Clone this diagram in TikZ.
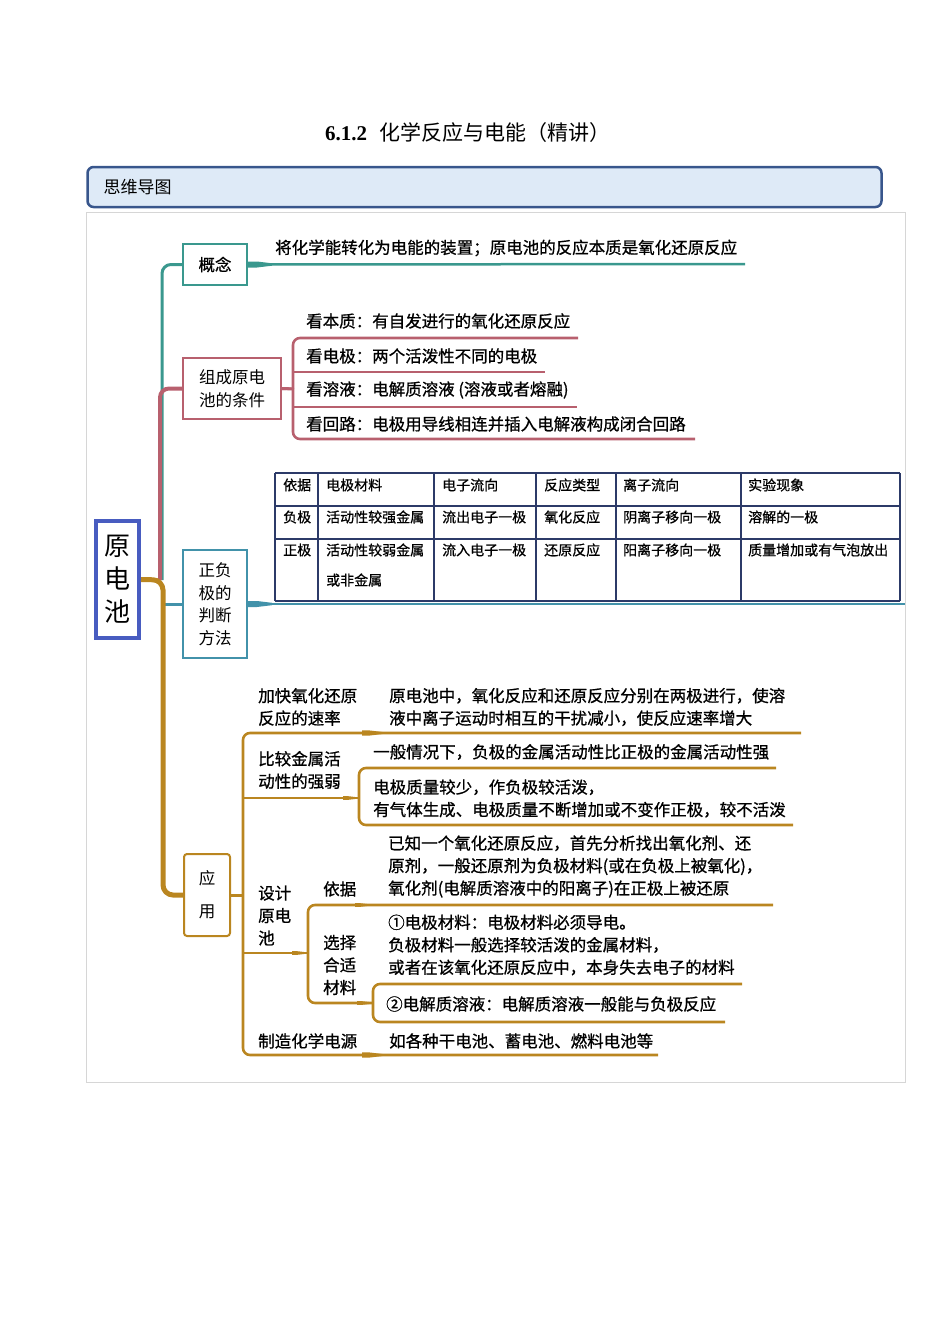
\documentclass[tikz,border=0pt]{standalone}
\usepackage{fontspec}
\setmainfont{Noto Sans CJK SC}
\newfontfamily\leaffont{Noto Sans CJK SC}[FakeBold=0.8]
\newfontfamily\numfont{Liberation Serif}
\usetikzlibrary{positioning}

\definecolor{conceptteal}{RGB}{58,152,142}
\definecolor{condred}{RGB}{184,96,110}
\definecolor{judgeblue}{RGB}{66,146,170}
\definecolor{usegold}{RGB}{186,134,32}
\definecolor{rootblue}{RGB}{72,92,192}
\definecolor{tablenavy}{RGB}{44,58,104}
\definecolor{hdrfill}{RGB}{222,234,247}
\definecolor{hdrline}{RGB}{56,86,140}
\definecolor{framegray}{RGB}{214,214,214}

\tikzset{
  topic/.style={rectangle, draw, line width=2pt, fill=white, align=center,
    inner sep=0pt, font=\fontsize{16.5}{22.5}\selectfont},
  leaf/.style={anchor=west, align=left, inner sep=0pt,
    font=\leaffont\fontsize{16.5}{22.5}\selectfont},
  cell/.style={anchor=west, inner sep=0pt, font=\leaffont\fontsize{14}{17}\selectfont},
  limb/.style={line width=2.6pt, rounded corners=7pt},
  pics/taper/.style={code={\fill (0,-3) -- (9,-3) -- (24,-1.2) -- (24,1.2) -- (9,3) -- (0,3) -- cycle;}}
}

\begin{document}
\begin{tikzpicture}[x=1pt, y=-1pt]
\useasboundingbox (0,0) rectangle (950,1344);

% Head
\node (title) at (468,133) {\fontsize{21}{24}\selectfont{\numfont\bfseries 6.1.2}\hspace{0.6em}化学反应与电能（精讲）};
\draw[framegray, line width=1pt] (86,212) rectangle (905,1082);
\node (header) [draw=hdrline, fill=hdrfill, line width=2.5pt, rounded corners=6pt,
  text width=762pt, inner xsep=16pt, minimum height=40pt, align=left,
  font=\fontsize{17}{20}\selectfont] at (484.5,187) {思维导图};

% Nodes
\node (root) [topic, draw=rootblue, line width=4pt, minimum width=43pt, minimum height=117pt,
  font=\fontsize{26}{33}\selectfont] at (117.5,579.5) {原\\电\\池};
\node (concept) [topic, draw=conceptteal, minimum width=64pt, minimum height=41pt,
  font=\leaffont\fontsize{16.5}{22.5}\selectfont] at (215,264.5) {概念};
\node (cond) [topic, draw=condred, minimum width=98pt, minimum height=61pt] at (232,388.5) {组成原电\\池的条件};
\node (judge) [topic, draw=judgeblue, minimum width=64pt, minimum height=108pt] at (215,604) {正负\\极的\\判断\\方法};
\node (apply) [topic, draw=usegold, rounded corners=3pt, minimum width=46pt, minimum height=82pt,
  font=\fontsize{16.5}{33}\selectfont] at (207,895) {应\\用};

\node (conceptdef) [leaf] at (275,248) {将化学能转化为电能的装置；原电池的反应本质是氧化还原反应};
\node (c1) [leaf] at (306,321) {看本质：有自发进行的氧化还原反应};
\node (c2) [leaf] at (306,356) {看电极：两个活泼性不同的电极};
\node (c3) [leaf] at (306,390) {看溶液：电解质溶液 (溶液或者熔融)};
\node (c4) [leaf] at (306,424) {看回路：电极用导线相连并插入电解液构成闭合回路};

\node (speed) [leaf] at (258,707) {加快氧化还原\\反应的速率};
\node (speedtxt) [leaf] at (389,707) {原电池中，氧化反应和还原反应分别在两极进行，使溶\\液中离子运动时相互的干扰减小，使反应速率增大};
\node (compare) [leaf] at (258,770) {比较金属活\\动性的强弱};
\node (cmp1) [leaf] at (373,752) {一般情况下，负极的金属活动性比正极的金属活动性强};
\node (cmp2) [leaf] at (373,798.5) {电极质量较少，作负极较活泼，\\有气体生成、电极质量不断增加或不变作正极，较不活泼};
\node (design) [leaf] at (258,915.5) {设计\\原电\\池};
\node (basis) [leaf] at (323,889) {依据};
\node (basistxt) [leaf] at (388,866.5) {已知一个氧化还原反应，首先分析找出氧化剂、还\\原剂，一般还原剂为负极材料(或在负极上被氧化)，\\氧化剂(电解质溶液中的阳离子)在正极上被还原};
\node (choose) [leaf] at (323,965) {选择\\合适\\材料};
\node (mat1) [leaf] at (388,945) {①电极材料：电极材料必须导电。\\负极材料一般选择较活泼的金属材料，\\或者在该氧化还原反应中，本身失去电子的材料};
\node (mat2) [leaf] at (386,1004) {②电解质溶液：电解质溶液一般能与负极反应};
\node (make) [leaf] at (258,1041) {制造化学电源};
\node (maketxt) [leaf] at (389,1041) {如各种干电池、蓄电池、燃料电池等};

% Table
\foreach \x in {275,318,434,536,616,741,900}
  \draw[tablenavy, line width=1.6pt] (\x,473) -- (\x,601);
\foreach \y in {473,506,539,601}
  \draw[tablenavy, line width=1.6pt] (275,\y) -- (900,\y);
\foreach \x/\t [count=\i] in {283/依据, 326/电极材料, 442/电子流向, 544/反应类型, 623/离子流向, 748/实验现象}
  \node[cell] (head\i) at (\x,485) {\t};
\foreach \x/\t [count=\i] in {283/负极, 326/活动性较强金属, 442/流出电子一极, 544/氧化反应, 623/阴离子移向一极, 748/溶解的一极}
  \node[cell] (neg\i) at (\x,517) {\t};
\foreach \x/\t [count=\i] in {283/正极, 326/活动性较弱金属, 442/流入电子一极, 544/还原反应, 623/阳离子移向一极, 748/质量增加或有气泡放出}
  \node[cell] (pos\i) at (\x,550) {\t};
\node[cell] (pos2b) at (326,580) {或非金属};

% Connections
\coordinate (hub) at (162,580);
\draw[conceptteal, line width=3pt, rounded corners=9pt] (hub) |- (concept.west);
\coordinate (conceptend) at (745,264);
\draw[conceptteal, line width=2.5pt] (concept.east) -- (conceptend);
\pic[conceptteal] at (concept.east) {taper};

\draw[judgeblue, line width=3pt] (hub |- judge.west) -- (judge.west);
\coordinate (judgeend) at (905,604);
\draw[judgeblue, line width=2.5pt] (judge.east) -- (judgeend);
\pic[judgeblue] at (judge.east) {taper};

\draw[condred, line width=4pt, rounded corners=9pt] ([xshift=-2pt]hub) |- (cond.west);
\coordinate (condfork) at (293,389);
\coordinate (c1end) at (578,338);
\coordinate (c2end) at (545,372);
\coordinate (c3end) at (577,407);
\coordinate (c4end) at (695,439);
\draw[condred, line width=3pt] (cond.east) -- (condfork);
\draw[condred, limb] (c1end) -| (condfork) |- (c4end);
\draw[condred, limb] (condfork |- c2end) -- (c2end);
\draw[condred, limb] (condfork |- c3end) -- (c3end);

\draw[usegold, line width=5pt, rounded corners=10pt] (root.east) -- ([xshift=1pt]hub) |- (apply.west);
\coordinate (trunk) at (243,895);
\coordinate (speedend) at (801,733);
\coordinate (makeend) at (658,1055);
\draw[usegold, line width=3pt] (apply.east) -- (trunk);
\draw[usegold, limb] (speedend) -| (trunk) |- (makeend);
\coordinate (cmpfork) at (359,798);
\coordinate (cmp1end) at (776,768);
\coordinate (cmp2end) at (793,825);
\draw[usegold, limb] (trunk |- cmpfork) -- (cmpfork);
\draw[usegold, limb] (cmp1end) -| (cmpfork) |- (cmp2end);
\coordinate (designfork) at (308,953);
\coordinate (basisend) at (773,905);
\coordinate (matfork) at (373,1003);
\coordinate (mat1end) at (742,984);
\coordinate (mat2end) at (725,1022);
\draw[usegold, limb] (trunk |- designfork) -- (designfork);
\draw[usegold, limb] (basisend) -| (designfork) |- (matfork);
\draw[usegold, limb] (mat1end) -| (matfork) |- (mat2end);
\pic[usegold, scale=0.85] at (362,733) {taper};
\pic[usegold, scale=0.85] at (362,1055) {taper};
\pic[usegold, scale=0.6] at (343,798) {taper};
\pic[usegold, scale=0.6] at (292,953) {taper};
\pic[usegold, scale=0.6] at (357,1003) {taper};
\pic[usegold, scale=0.6] at (355,905) {taper};
\pic[condred, scale=0.5] at (cond.east) {taper};

\end{tikzpicture}
\end{document}
